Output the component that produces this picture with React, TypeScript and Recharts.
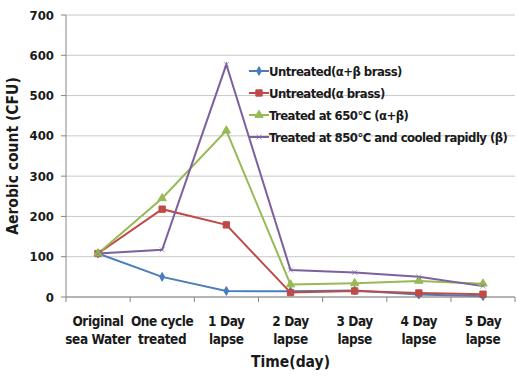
import { LineChart, Line, XAxis, YAxis, CartesianGrid, Symbols } from "recharts";

const categories = [
  "Original\nsea Water",
  "One cycle\ntreated",
  "1 Day\nlapse",
  "2 Day\nlapse",
  "3 Day\nlapse",
  "4 Day\nlapse",
  "5 Day\nlapse",
];
const untreatedAlphaBeta = [108, 50, 15, 14, 16, 6, 2];
const untreatedAlpha = [108, 218, 179, 11, 15, 10, 7];
const treated650 = [108, 245, 413, 31, 34, 40, 33];
const treated850 = [108, 117, 577, 67, 61, 50, 27];
const yTicks = [0, 100, 200, 300, 400, 500, 600, 700];

const series = [
  { key: "a", name: "Untreated(α+β brass)", color: "#4a7ebb", marker: "diamond" },
  { key: "b", name: "Untreated(α brass)", color: "#be4b48", marker: "square" },
  { key: "c", name: "Treated at 650°C (α+β)", color: "#98b954", marker: "triangle" },
  { key: "d", name: "Treated at 850°C and cooled rapidly (β)", color: "#7d60a0", marker: "x" },
];

const data = categories.map((c, i) => ({
  cat: c,
  a: untreatedAlphaBeta[i],
  b: untreatedAlpha[i],
  c: treated650[i],
  d: treated850[i],
}));

const FONT = "'DejaVu Sans Condensed', 'Liberation Sans', Arial, sans-serif";

function Marker({ cx, cy, type, color }: { cx: number; cy: number; type: string; color: string }) {
  if (type === "x") {
    return (
      <g stroke={color} strokeWidth={1} opacity={0.6}>
        <line x1={cx - 2.5} y1={cy - 2.5} x2={cx + 2.5} y2={cy + 2.5} />
        <line x1={cx - 2.5} y1={cy + 2.5} x2={cx + 2.5} y2={cy - 2.5} />
      </g>
    );
  }
  const size = type === "square" ? 40 : type === "triangle" ? 30 : 22;
  return <Symbols cx={cx} cy={cy} type={type as any} size={size} fill={color} stroke={color} />;
}

function makeDot(type: string, color: string) {
  return (props: any) => {
    const { cx, cy, index } = props;
    if (cx == null || cy == null) return <g key={index} />;
    return <Marker key={index} cx={cx} cy={cy} type={type} color={color} />;
  };
}

function XTick(props: any) {
  const { x, y, payload, index } = props;
  const lines = String(payload.value).split("\n");
  return (
    <g>
      <line x1={x - 32} y1={y - 8} x2={x - 32} y2={y - 3} stroke="#868686" />
      {index === categories.length - 1 && (
        <line x1={x + 32} y1={y - 8} x2={x + 32} y2={y - 3} stroke="#868686" />
      )}
      {lines.map((l, i) => (
        <text
          key={i}
          x={x}
          y={y + 21 + i * 18}
          textAnchor="middle"
          fontFamily={FONT}
          fontWeight="bold"
          fontSize={13.5}
          letterSpacing={-0.4}
          fill="#1a1a1a"
        >
          {l}
        </text>
      ))}
    </g>
  );
}

function LegendBox() {
  return (
    <div
      style={{
        position: "absolute",
        left: 249,
        top: 60,
        fontFamily: FONT,
        fontWeight: "bold",
        fontSize: 13,
        letterSpacing: -0.55,
        color: "#1a1a1a",
      }}
    >
      {series.map((s) => (
        <div key={s.key} style={{ display: "flex", alignItems: "center", height: 22, whiteSpace: "nowrap" }}>
          <svg width={20} height={10} style={{ marginRight: 0 }}>
            <line x1={0} y1={5} x2={20} y2={5} stroke={s.color} strokeWidth={2} />
            <Marker cx={10} cy={5} type={s.marker} color={s.color} />
          </svg>
          <span>{s.name}</span>
        </div>
      ))}
    </div>
  );
}

export default function App() {
  return (
    <div style={{ position: "fixed", left: 0, top: 0, width: 517, height: 381, background: "#fff" }}>
      <LineChart width={517} height={381} data={data} margin={{ top: 15, right: 2, left: 0, bottom: 0 }}>
        <CartesianGrid vertical={false} stroke="#c8c8c8" />
        <XAxis
          dataKey="cat"
          interval={0}
          padding={{ left: 32, right: 32 }}
          height={84}
          tickLine={false}
          axisLine={{ stroke: "#868686" }}
          tick={<XTick />}
          label={{
            value: "Time(day)",
            position: "insideBottom",
            offset: 14,
            style: { fontFamily: FONT, fontWeight: "bold", fontSize: 15.5, fill: "#1a1a1a" },
          }}
        />
        <YAxis
          width={66}
          domain={[0, 700]}
          ticks={yTicks}
          interval={0}
          tickSize={5}
          tickLine={{ stroke: "#868686" }}
          axisLine={{ stroke: "#868686" }}
          tick={{ fontFamily: FONT, fontWeight: "bold", fontSize: 13, fill: "#1a1a1a", dx: -5 }}
          label={{
            value: "Aerobic count (CFU)",
            angle: -90,
            position: "insideLeft",
            offset: 12,
            style: { textAnchor: "middle", fontFamily: FONT, fontWeight: "bold", fontSize: 15.5, fill: "#1a1a1a" },
          }}
        />
        {series.map((s) => (
          <Line
            key={s.key}
            dataKey={s.key}
            name={s.name}
            type="linear"
            stroke={s.color}
            strokeWidth={2}
            dot={makeDot(s.marker, s.color)}
            activeDot={false}
            isAnimationActive={false}
          />
        ))}
      </LineChart>
      <LegendBox />
    </div>
  );
}
